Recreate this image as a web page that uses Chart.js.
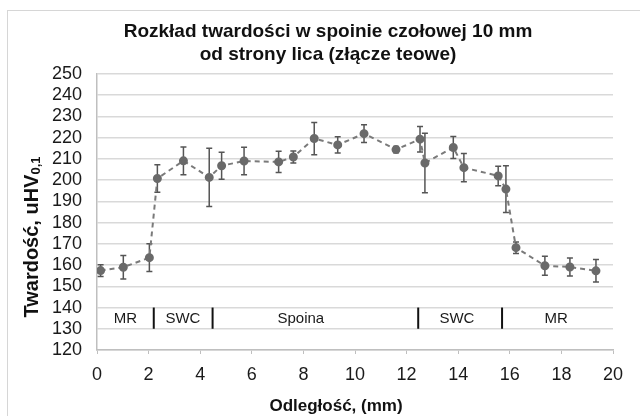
<!DOCTYPE html>
<html>
<head>
<meta charset="utf-8">
<script src="https://cdn.jsdelivr.net/npm/chart.js@4"></script>
<style>
  body { margin: 0; background: #fff; }
  canvas { display: block; }
</style>
</head>
<body>
<canvas id="chart" width="640" height="416"></canvas>
<script>
// measured points: distance (mm), hardness and the +/- spread
const distance = [0.14, 1.02, 2.03, 2.34, 3.35, 4.35, 4.83, 5.70, 7.04, 7.61, 8.42, 9.33,
  10.35, 11.59, 12.52, 12.71, 13.81, 14.22, 15.55, 15.85, 16.24, 17.36, 18.33, 19.34];
const hardness = [157.4, 159.0, 163.5, 200.8, 209.1, 201.3, 206.8, 209.0, 208.6, 210.9, 219.6, 216.6,
  221.9, 214.4, 219.3, 208.1, 215.4, 205.9, 202.0, 195.8, 168.2, 159.7, 159.1, 157.3];
const spread = [2.8, 5.5, 6.5, 6.5, 6.5, 13.7, 6.4, 6.5, 5.0, 2.8, 7.6, 3.8,
  4.2, 1.5, 6.0, 14.0, 5.2, 6.7, 4.6, 11.0, 2.7, 4.5, 4.2, 5.3];

// zones of the joint
const zoneBounds = [2.2, 4.48, 12.45, 15.7];
const zoneNames = ['MR', 'SWC', 'Spoina', 'SWC', 'MR'];
const zoneNameX = [1.1, 3.33, 7.9, 13.95, 17.8];

const titleLines = ['Rozkład twardości w spoinie czołowej 10 mm', 'od strony lica (złącze teowe)'];
const font = '"Liberation Sans", Arial, sans-serif';

const decor = {
  id: 'decor',
  beforeDraw(chart) {
    const ctx = chart.ctx;
    ctx.save();
    ctx.fillStyle = '#fff';
    ctx.fillRect(0, 0, chart.width, chart.height);
    ctx.strokeStyle = '#d6d6d6';
    ctx.lineWidth = 1;
    ctx.strokeRect(7.5, 10.5, 700, 500);
    ctx.restore();
  },
  beforeDatasetsDraw(chart) {
    const ctx = chart.ctx;
    const x = chart.scales.x, y = chart.scales.y;
    ctx.save();
    // error bars
    ctx.strokeStyle = '#555';
    ctx.lineWidth = 1.5;
    distance.forEach((d, i) => {
      const px = x.getPixelForValue(d);
      const top = y.getPixelForValue(hardness[i] + spread[i]);
      const bot = y.getPixelForValue(hardness[i] - spread[i]);
      ctx.beginPath();
      ctx.moveTo(px, top); ctx.lineTo(px, bot);
      ctx.moveTo(px - 3, top); ctx.lineTo(px + 3, top);
      ctx.moveTo(px - 3, bot); ctx.lineTo(px + 3, bot);
      ctx.stroke();
    });
    // zone separators and names
    ctx.strokeStyle = '#111';
    ctx.lineWidth = 2;
    zoneBounds.forEach(b => {
      const px = x.getPixelForValue(b);
      ctx.beginPath();
      ctx.moveTo(px, y.getPixelForValue(140));
      ctx.lineTo(px, y.getPixelForValue(130));
      ctx.stroke();
    });
    ctx.fillStyle = '#1a1a1a';
    ctx.font = '15px ' + font;
    ctx.textAlign = 'center';
    ctx.textBaseline = 'middle';
    zoneNames.forEach((n, i) => {
      ctx.fillText(n, x.getPixelForValue(zoneNameX[i]), y.getPixelForValue(134.5));
    });
    ctx.restore();
  },
  afterDraw(chart) {
    const ctx = chart.ctx;
    ctx.save();
    ctx.fillStyle = '#111';
    ctx.textAlign = 'center';
    ctx.textBaseline = 'middle';
    ctx.font = 'bold 19px ' + font;
    ctx.fillText(titleLines[0], 328, 32);
    ctx.fillText(titleLines[1], 328, 55);
    ctx.font = 'bold 17px ' + font;
    ctx.fillText('Odległość, (mm)', 336, 406);
    // y title with subscript
    ctx.translate(32, 237);
    ctx.rotate(-Math.PI / 2);
    ctx.font = 'bold 20px ' + font;
    const main = 'Twardość, uHV';
    const wMain = ctx.measureText(main).width;
    ctx.font = 'bold 13px ' + font;
    const wSub = ctx.measureText('0,1').width;
    const start = -(wMain + wSub) / 2;
    ctx.textAlign = 'left';
    ctx.font = 'bold 20px ' + font;
    ctx.fillText(main, start, 0);
    ctx.font = 'bold 13px ' + font;
    ctx.fillText('0,1', start + wMain, 4);
    ctx.restore();
  }
};

new Chart(document.getElementById('chart'), {
  type: 'scatter',
  data: {
    datasets: [{
      data: distance.map((d, i) => ({ x: d, y: hardness[i] })),
      showLine: true,
      borderColor: '#7a7a7a',
      borderWidth: 2,
      borderDash: [5, 4],
      pointRadius: 3.5,
      pointBackgroundColor: '#6a6a6a',
      pointBorderColor: '#6a6a6a'
    }]
  },
  options: {
    responsive: false,
    animation: false,
    layout: { padding: { left: 0, right: 27, top: 74, bottom: 0 } },
    plugins: { legend: { display: false }, tooltip: { enabled: false }, title: { display: false } },
    scales: {
      x: {
        type: 'linear', min: 0, max: 20,
        ticks: { stepSize: 2, color: '#1a1a1a', font: { size: 18, family: font }, padding: 10 },
        grid: { drawOnChartArea: false, tickLength: 4, color: '#bfbfbf' },
        border: { color: '#bfbfbf', width: 1.5 },
        afterFit(s) { s.height = 66; }
      },
      y: {
        min: 120, max: 250,
        ticks: { stepSize: 10, autoSkip: false, color: '#1a1a1a', font: { size: 18, family: font }, padding: 15 },
        grid: { color: '#d9d9d9', lineWidth: 1.5, drawTicks: false },
        border: { color: '#bfbfbf', width: 1.5 },
        afterFit(s) { s.width = 97; }
      }
    }
  },
  plugins: [decor]
});
</script>
</body>
</html>
